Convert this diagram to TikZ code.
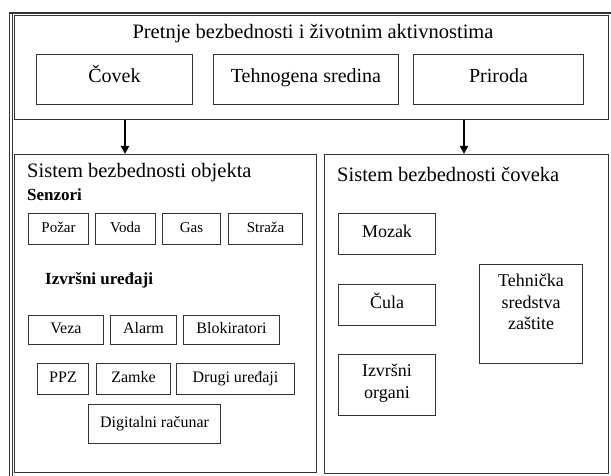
\documentclass[tikz,border=0pt]{standalone}
\usepackage{fontspec}
\setmainfont{Liberation Serif}
\usetikzlibrary{arrows.meta}
\begin{document}
\begin{tikzpicture}[x=1pt,y=-1pt,
  frame/.style={draw=black!80,line width=1.1pt},
  box/.style={draw=black!80,line width=1pt,inner sep=0pt,anchor=north west,align=center},
  one/.style={text height=0.8em,text depth=0.15em},
  sens/.style={box,one,font=\fontsize{15}{17}\selectfont},
  dev/.style={box,one,font=\fontsize{16}{19}\selectfont},
  top/.style={box,one,font=\fontsize{20}{24}\selectfont},
  hum/.style={box,font=\fontsize{18}{21}\selectfont},
  toptext/.style={label={[anchor=north,yshift=-10pt,align=center,inner sep=0pt,
          font=\fontsize{18}{21.5}\selectfont]north:#1}},
  head/.style={inner sep=0pt,font=\fontsize{20.5}{24}\selectfont},
  bhead/.style={inner sep=0pt,anchor=west,font=\fontsize{17}{20}\selectfont\bfseries},
  arr/.style={draw=black,line width=1.8pt,-{Triangle[length=8pt,width=8pt]}}]
\useasboundingbox (0,0) rectangle (611,476);
% outer frame
\draw[line width=1.4pt,black!80] (9.5,13) rectangle (660,500);
\draw[line width=0.9pt,black!80] (12,13) -- (12,500);
% threats
\node[box,frame,minimum width=594pt,minimum height=104pt] (thr) at (14,15) {};
\node[head] (thrt) at (313,34) {Pretnje bezbednosti i životnim aktivnostima};
\node[top,minimum width=156pt,minimum height=50pt] (cov) at (36,54) {Čovek};
\node[top,minimum width=185pt,minimum height=50pt] (teh) at (213,54) {Tehnogena sredina};
\node[top,minimum width=170pt,minimum height=50pt] (pri) at (413,54) {Priroda};
% object safety system
\node[box,frame,minimum width=302pt,minimum height=318pt] (obj) at (14,154) {};
\node[head,anchor=west] (objt) at (27,173) {Sistem bezbednosti objekta};
\node[bhead] (sen) at (27,195) {Senzori};
\node[sens,minimum width=60pt,minimum height=31pt] (poz) at (28,213) {Požar};
\node[sens,minimum width=60pt,minimum height=31pt] (vod) at (95,213) {Voda};
\node[sens,minimum width=58pt,minimum height=31pt] (gas) at (162,213) {Gas};
\node[sens,minimum width=74pt,minimum height=31pt] (str) at (228,213) {Straža};
\node[bhead] (izv) at (45,280) {Izvršni uređaji};
\node[dev,minimum width=75pt,minimum height=29pt] (vez) at (28,315) {Veza};
\node[dev,minimum width=66pt,minimum height=29pt] (ala) at (110,315) {Alarm};
\node[dev,minimum width=96pt,minimum height=29pt] (blo) at (183,315) {Blokiratori};
\node[dev,minimum width=51pt,minimum height=31pt] (ppz) at (37,363) {PPZ};
\node[dev,minimum width=74pt,minimum height=31pt] (zam) at (96,363) {Zamke};
\node[dev,minimum width=118pt,minimum height=31pt] (dru) at (176,363) {Drugi uređaji};
\node[dev,minimum width=132pt,minimum height=39pt] (dig) at (88,404) {Digitalni računar};
% human safety system
\node[box,frame,minimum width=284pt,minimum height=319pt] (man) at (324,154) {};
\node[head,anchor=west] (mant) at (337,174) {Sistem bezbednosti čoveka};
\node[hum,one,minimum width=97pt,minimum height=41pt] (moz) at (338,213) {Mozak};
\node[hum,one,minimum width=97pt,minimum height=41pt] (cul) at (338,284) {Čula};
\node[box,minimum width=97pt,minimum height=61pt,toptext={Izvršni\\organi}] (org) at (338,354) {};
\node[box,minimum width=103pt,minimum height=99pt,toptext={Tehnička\\sredstva\\zaštite}] (ts) at (479,264) {};
% arrows
\draw[arr] (thr.south -| 125,0) -- (obj.north -| 125,0);
\draw[arr] (thr.south -| 464,0) -- (man.north -| 464,0);
\end{tikzpicture}
\end{document}
